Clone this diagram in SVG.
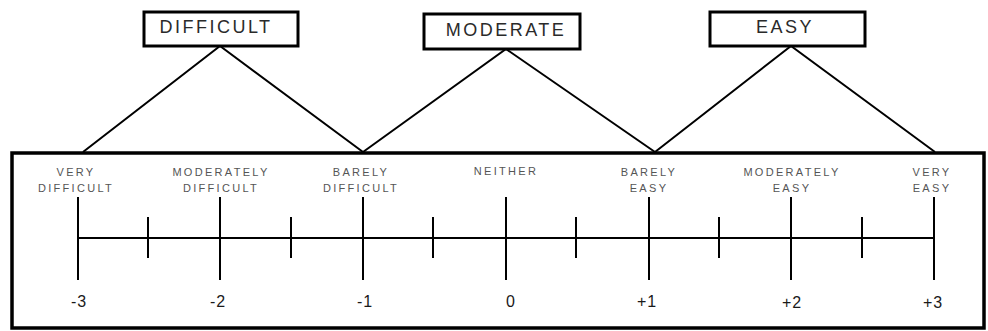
<svg xmlns="http://www.w3.org/2000/svg" width="988" height="331" viewBox="0 0 988 331">
  <style>
    .box { fill: #fff; stroke: #000; stroke-width: 3; }
    .frame { fill: #fff; stroke: #000; stroke-width: 3.5; }
    .title { font-family: "Liberation Sans", Arial, sans-serif; font-size: 18px; letter-spacing: 2.5px; fill: #2a2a2a; text-anchor: middle; }
    .conn { stroke: #000; stroke-width: 2; fill: none; }
    .axis { stroke: #000; stroke-width: 2; fill: none; }
    .lbl { font-family: "Liberation Sans", Arial, sans-serif; font-size: 11px; letter-spacing: 2.3px; fill: #555; text-anchor: middle; }
    .num { font-family: "Liberation Sans", Arial, sans-serif; font-size: 16px; letter-spacing: 1px; fill: #1a1a1a; text-anchor: middle; }
  </style>

  <!-- scale frame -->
  <g id="scale">
    <rect class="frame" x="12" y="153" width="972" height="175"/>
    <g class="axis">
      <line x1="78" y1="238" x2="934" y2="238"/>
      <!-- major ticks -->
      <line x1="78" y1="197" x2="78" y2="280"/>
      <line x1="220" y1="197" x2="220" y2="280"/>
      <line x1="363" y1="197" x2="363" y2="280"/>
      <line x1="506" y1="197" x2="506" y2="280"/>
      <line x1="649" y1="197" x2="649" y2="280"/>
      <line x1="791" y1="197" x2="791" y2="280"/>
      <line x1="934" y1="197" x2="934" y2="280"/>
      <!-- minor ticks -->
      <line x1="148" y1="217" x2="148" y2="258"/>
      <line x1="291" y1="217" x2="291" y2="258"/>
      <line x1="433" y1="217" x2="433" y2="258"/>
      <line x1="576" y1="217" x2="576" y2="258"/>
      <line x1="719" y1="217" x2="719" y2="258"/>
      <line x1="862" y1="217" x2="862" y2="258"/>
    </g>
    <!-- point labels -->
    <text class="lbl" x="76" y="176">VERY</text>
    <text class="lbl" x="76" y="192">DIFFICULT</text>
    <text class="lbl" x="221" y="176">MODERATELY</text>
    <text class="lbl" x="221" y="192">DIFFICULT</text>
    <text class="lbl" x="361" y="176">BARELY</text>
    <text class="lbl" x="361" y="192">DIFFICULT</text>
    <text class="lbl" x="506" y="175">NEITHER</text>
    <text class="lbl" x="649" y="176">BARELY</text>
    <text class="lbl" x="649" y="192">EASY</text>
    <text class="lbl" x="792" y="176">MODERATELY</text>
    <text class="lbl" x="792" y="192">EASY</text>
    <text class="lbl" x="932" y="176">VERY</text>
    <text class="lbl" x="932" y="192">EASY</text>
    <!-- numeric values -->
    <text class="num" x="79" y="307">-3</text>
    <text class="num" x="218" y="307">-2</text>
    <text class="num" x="365" y="307">-1</text>
    <text class="num" x="511" y="307">0</text>
    <text class="num" x="647" y="307">+1</text>
    <text class="num" x="792" y="308">+2</text>
    <text class="num" x="933" y="308">+3</text>
  </g>

  <!-- connectors from category boxes down to the scale -->
  <g id="connectors" class="conn">
    <polyline points="83,152 220,46 363,152"/>
    <polyline points="363,152 506,49 655,152"/>
    <polyline points="655,152 791,46 935,152"/>
  </g>

  <g id="difficult">
    <rect class="box" x="144" y="12" width="154" height="34"/>
    <text class="title" x="216" y="33">DIFFICULT</text>
  </g>
  <g id="moderate">
    <rect class="box" x="424" y="14" width="156" height="35"/>
    <text class="title" x="506" y="36">MODERATE</text>
  </g>
  <g id="easy">
    <rect class="box" x="710" y="12" width="155" height="34"/>
    <text class="title" x="785" y="33">EASY</text>
  </g>
</svg>
